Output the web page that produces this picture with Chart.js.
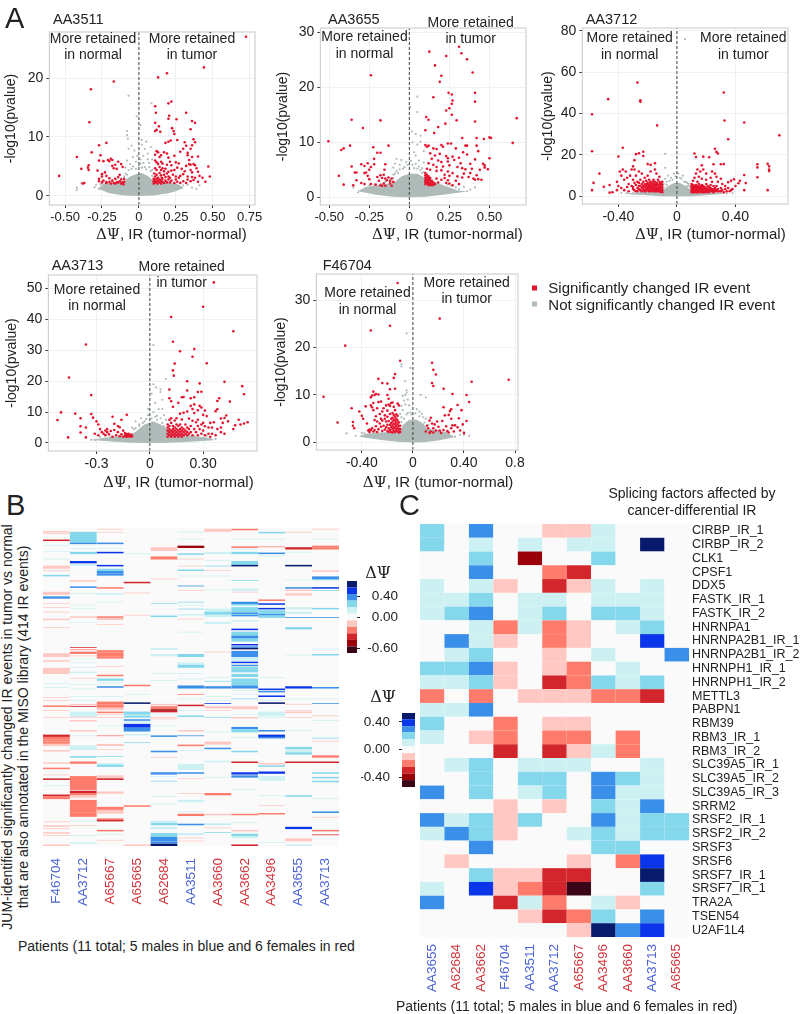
<!DOCTYPE html>
<html>
<head>
<meta charset="utf-8">
<title>IR figure</title>
<script src="https://cdn.jsdelivr.net/npm/chart.js@4/dist/chart.umd.min.js"></script>
<style>
html,body{margin:0;padding:0;background:#fff}
#page{position:relative;width:802px;height:1014px;overflow:hidden;font-family:"Liberation Sans",Arial,sans-serif;color:#222}
#page canvas{position:absolute}
.t{position:absolute;white-space:nowrap}
.psi{font-family:"DejaVu Serif","Liberation Serif",serif}
</style>
</head>
<body>
<div id="page"></div>
<script>
// -------- panel A data: [deltaPsi, -log10(p)] --------
const a3511Sig = [[.725,27],[.44,21.8],[.19,20.8],[.13,20.1],[.22,16],[.2,15.7],[.11,15.2],[.115,14.1],[.32,14.1],[.205,13.6],[.2,13.1],[.255,13],[.11,12.4],[.36,12.7],[.38,12.4],[.135,11.8],[.225,11.5],[.12,11.2],[.145,10.9],[.235,11],[.24,10.5],[.11,11],[.35,11.3],[.37,9.6],[.38,9.1],[.31,9.1],[.32,8.5],[.18,9],[.2,9.2],[.215,9.4],[.26,9.5],[.35,8],[.36,8.6],[.4,6.7],[.33,7.3],[.3,8],
[.12,7.6],[.13,7.4],[.17,7.4],[.19,7.2],[.2,6.5],[.11,7],[.14,6.6],[.15,6.9],[.24,6.8],[.28,7.5],[.33,6.9],[.34,6.1],[.36,6.6],[.11,6],[.12,5.7],[.13,5.4],[.15,5.8],[.16,5.5],[.19,5.3],[.21,5.8],[.22,5.2],[.25,5.7],[.27,5.5],[.32,5.1],[.34,5.4],[.35,5.3],[.37,5.4],[.38,5.2],[.39,4.7],[.47,5],
[.11,4.7],[.12,4.4],[.14,4.9],[.15,4.4],[.16,4.7],[.17,4.2],[.18,4.6],[.2,4.1],[.22,4.3],[.24,4.4],[.26,4.8],[.29,4.6],[.31,4.2],[.35,4.4],[.36,4],[.4,4.1],[.105,3.8],[.11,3.3],[.12,3.6],[.13,3.1],[.14,3.9],[.15,3.5],[.155,3.1],[.17,3.6],[.18,3.2],[.19,3.8],[.2,3.3],[.21,3.1],[.23,3.6],[.25,3.3],[.27,3.1],[.28,3.4],[.3,3.7],[.33,3.3],[.36,3.2],[.38,3.1],[.41,3.4],[.43,3.1],[.48,3.3],
[.1,2.9],[.1,2.5],[.1,2.1],[.11,2.7],[.11,2.3],[.12,2.9],[.12,2.4],[.125,2.1],[.13,2.6],[.14,2.3],[.14,2.8],[.15,2.1],[.15,2.6],[.16,2.4],[.16,2.9],[.17,2.2],[.18,2.6],[.19,2.3],[.2,2.8],[.21,2.3],[.22,2.6],[.24,2.2],[.25,2.8],[.26,2.4],[.28,2.2],[.3,2.5],[.32,2.2],[.33,2.8],[.35,2.5],[.37,2.7],[.4,2.4],[.45,2.4],
[-.54,3.4],[-.42,6.6],[-.38,2.1],[-.39,4.6],[-.37,2.2],[-.34,5.2],[-.345,4.8],[-.34,4.4],[-.335,12.5],[-.325,18.1],[-.32,7.4],[-.27,8.6],[-.27,6],[-.26,6.9],[-.22,9],[-.17,19.4],[-.28,4.3],[-.27,2.9],[-.27,2.5],[-.25,3.7],[-.25,3.3],[-.24,2.6],[-.24,5.9],[-.23,4],[-.22,3.4],[-.22,2.3],[-.21,6.1],[-.2,5.9],[-.2,3],[-.2,2.4],[-.19,6.3],[-.18,6.1],[-.18,5.1],[-.18,2.6],[-.17,2.2],[-.17,4.7],[-.16,5.3],[-.16,2.9],[-.15,2.3],[-.15,4.6],[-.14,5.8],[-.14,3.2],[-.13,2.5],[-.13,3.6],[-.12,2.1],[-.12,5.4],[-.12,2.8],[-.11,2.3],[-.11,4.9],[-.105,2],[-.1,2.4],[-.1,2.9],[-.14,2.3],[-.16,2.1],[-.19,2.1],[-.22,2.2],[-.25,2.3]];
const a3511Not = [[-.07,17],[.085,15.7],[-.015,13.5],[.01,12],[-.08,11],[-.08,10.3],[-.075,9.7],[.02,9.5],[.05,9.2],[.02,8.7],[-.05,8.5],[.04,8],[-.03,7.7],[-.07,8],[.08,8.3],[.06,7.2],[.03,6.8],[-.04,6.6],[.09,6.2],[-.08,6],[-.02,5.8],[.07,5.6],[-.06,5.4],[.01,5.5],[-.09,4.8],[.04,4.9],[-.42,1.4],[-.42,1],[-.39,2.2],[-.3,1.5],[-.29,1.9],[-.27,1.2],[.3,1.8],[.33,1.9],[.36,1.4],[.39,1.2],[.41,1.8],[.27,1.6],[-.09,3.8],[.09,4.4],
[-.1,3.3],[-.08,3.6],[-.07,4.4],[-.05,4.6],[-.04,5],[-.02,4.6],[0,5.2],[.02,4.8],[.03,5.6],[.05,4.5],[.06,6.2],[.08,4.2],[.09,3.4],[-.12,3],[-.15,2.8],[-.18,2.6],[-.22,2.5],[-.26,2],[.01,6.2],[-.01,6.8],[.07,4.9]];
const a3511CloudTop = [[-.27,1.4],[-.24,2.1],[-.1,2.6],[-.06,3.3],[-.02,3.7],[.02,3.9],[.06,3.4],[.1,2.6],[.25,2.2],[.3,1.5]];
const a3511CloudLow = [[-.27,1.2],[-.2,.45],[-.1,.1],[0,0],[.1,.1],[.2,.45],[.25,.8],[.3,1.3]];

const a3655Sig = [[.125,26.5],[.31,27.4],[.325,26.2],[.23,25.7],[.36,25.1],[.16,24],[.395,22.7],[.2,22.1],[.19,21],[.41,19],[.245,19],[.265,18.7],[.15,18.2],[.41,17.4],[.27,17.6],[.265,17],[.25,16.2],[.23,15.8],[.265,15],[.105,14.6],[.12,14.1],[.295,14],[.41,13.8],[.67,14.4],[.225,13.4],[.18,12.8],[.1,12.2],[.155,11.7],[.33,10.8],[.42,10.8],[.465,10.6],[.5,10.9],[.51,10.8],[.645,9.9],[.42,9.4],[.35,9.4],[.36,9.4],[.1,9.5],[.11,9.2],[.12,9.4],[.2,9.5],[.21,9.2],[.24,9.8],[.26,9.8],[.29,8.9],[.335,8.2],[.43,8.4],[.15,8.9],[.17,8.8],
[.13,8],[.16,7.6],[.19,7.9],[.23,7.5],[.24,7.1],[.27,7.4],[.31,7.2],[.36,7.8],[.41,6.9],[.5,7.1],[.14,7],[.18,6.7],[.2,6.4],[.24,6.5],[.28,6.8],[.32,6.2],[.38,6.1],[.46,6.1],[.47,5.8],[.12,6.2],[.15,5.9],[.17,5.5],[.21,5.6],[.25,5.8],[.3,5.5],[.33,5.3],[.35,5.1],[.39,5.2],[.44,5],[.49,5.1],[.47,5.4],[.11,5.2],[.13,5],[.17,4.8],[.2,4.9],[.24,4.7],[.27,4.4],[.34,4.3],[.38,4.4],[.42,4],[.22,4.1],[.25,3.9],[.3,3.8],[.37,3.7],[.4,3.4],[.41,3.2],[.43,3.3],[.45,3.2],
[.1,4.4],[.1,4],[.1,3.6],[.1,3.2],[.1,2.8],[.1,2.4],[.11,4.1],[.11,3.7],[.11,3.3],[.11,2.9],[.11,2.5],[.12,3.8],[.12,3.4],[.12,3],[.12,2.6],[.12,2.2],[.13,3.5],[.13,3.1],[.13,2.7],[.13,2.3],[.14,3],[.14,2.6],[.14,2.2],[.15,2.7],[.15,2.3],[.16,2.4],[.17,3.4],[.18,2.7],[.2,3.2],[.22,3.5],[.23,2.6],[.24,3.1],[.25,2.5],[.27,2.2],[.29,3],[.31,2.4],[.33,3.6],
[-.505,10.2],[-.41,8.9],[-.425,8.6],[-.37,9.4],[-.36,14.1],[-.29,12.6],[-.24,22.2],[-.18,14],[-.13,9.4],[-.225,9.1],[-.2,8.1],[-.18,8.1],[-.36,5.6],[-.3,6],[-.28,5.7],[-.26,6.2],[-.22,6],[-.22,7],[-.34,4.5],[-.33,4.5],[-.25,5],[-.24,5.5],[-.15,6],[-.155,5],[-.44,3.9],[-.41,2.3],[-.35,2.2],[-.33,3.1],[-.28,4.4],[-.27,4.5],[-.26,3.9],[-.3,2.6],[-.28,2.4],[-.25,3.3],[-.24,2.4],[-.21,2.3],[-.2,3.7],[-.19,3],[-.18,4],[-.18,2.2],[-.17,3.5],[-.16,4.1],[-.16,2.5],[-.15,2.1],[-.14,3.1],[-.13,3.6],[-.12,2.5],[-.12,2.9],[-.11,3.4],[-.11,2.1],[-.1,2.8],[-.17,2.1],[-.15,3.4]];
const a3655Not = [[.05,18.3],[.005,16.4],[.05,15.5],[.015,12],[.04,11.5],[.07,11.2],[.02,10],[.05,9.6],[.07,10.1],[.09,8.4],[.03,8.2],[.04,7.6],[-.08,7],[-.05,6.8],[-.02,6.4],[.06,6.7],[.09,6.3],[-.09,6.1],[-.06,5.9],[.02,5.9],[.08,5.3],[-.1,5.4],[-.04,5.2],[-.08,4.8],[.05,5.2],[-.1,4.1],[.09,4.6],[-.32,.9],[-.35,1.8],[-.26,1.5],[.31,1.5],[.34,1.9],[.38,1.4],[.41,1.8],[.29,1.8],[.36,1.1],
[-.12,3.2],[-.1,3.5],[-.09,4.3],[-.07,4.4],[-.06,5.1],[-.03,5.5],[-.01,5.9],[.01,6.6],[.03,5.3],[.04,6.1],[.06,5.6],[.07,4.9],[.08,4.4],[-.15,2.8],[-.18,2.5],[-.22,2.3],[-.25,2.2],[.24,2.3],[.26,2.1]];
const a3655CloudTop = [[-.32,1.2],[-.27,1.9],[-.1,2.6],[-.05,3.8],[0,4.3],[.05,4.3],[.1,3.5],[.22,2.1],[.3,1.3],[.35,1.1]];
const a3655CloudLow = [[-.32,1.1],[-.2,.4],[-.1,.1],[0,0],[.1,.1],[.2,.4],[.35,1]];

const a3712Sig = [[.32,50.2],[.325,36.7],[.46,35.7],[.35,27.6],[.7,29.5],[.26,23],[.27,21.5],[.28,20.7],[.12,20.7],[.13,19],[.18,19.2],[.22,18.9],[.3,15.5],[.32,15.6],[.25,15.5],[.17,15],[.55,15.5],[.55,14],[.62,15.7],[.63,14.5],[.63,13],[.63,12.2],[.55,9.2],[.46,10.3],[.47,6.4],[.62,3],[.43,7.5],[.42,6.3],[.39,8.3],[.37,7.5],[.35,6.8],[.4,5],[.38,3.5],[.46,3],[.3,8.5],[.14,13],[.16,12],[.18,13],[.2,11],[.24,12],[.26,11],[.27,9.5],[.13,11],[.15,9.5],[.12,9],[.17,8.5],[.2,8],[.23,9],[.11,7.5],[.14,7],[.28,7],[.31,6],[.24,7],[.33,5],
[.1,6],[.1,5],[.1,4],[.1,3],[.1,2],[.11,5.5],[.11,4.5],[.11,3.5],[.11,2.5],[.12,5],[.12,4],[.12,3],[.12,2],[.13,5.5],[.13,4.5],[.13,3.5],[.13,2.5],[.14,5],[.14,4],[.14,3],[.14,2],[.15,6],[.15,4.5],[.15,3.5],[.15,2.5],[.16,5],[.16,4],[.16,3],[.17,5.5],[.17,4.5],[.17,3.5],[.17,2.5],[.18,5],[.18,4],[.18,3],[.18,2],[.19,4.5],[.19,3.5],[.19,2.5],[.2,6],[.2,4],[.2,3],[.21,5],[.21,3.5],[.21,2.5],[.22,4.5],[.22,3],[.23,5.5],[.23,4],[.23,2.5],[.24,3.5],[.25,5],[.25,3],[.25,2],[.26,4],[.26,2.5],[.27,5],[.27,3],[.28,3.5],[.29,2.5],[.3,4],[.3,2.5],[.31,3],[.32,2],[.33,3.5],[.34,2.5],[.35,4],[.36,2.5],[.37,3],
[.105,4.5],[.105,3.5],[.105,2.5],[.115,5],[.115,4],[.115,3],[.115,2],[.125,4.5],[.125,3.5],[.125,2.5],[.135,4],[.135,3],[.135,2],[.145,4.5],[.145,3.5],[.145,2.5],[.155,4],[.155,3],[.155,2],[.165,3.5],[.165,2.5],[.175,4],[.175,3],[.175,2],[.185,3.5],[.185,2.5],[.195,4],[.195,3],[.195,2],[.205,3.5],[.205,2.5],[.215,3],[.215,2],[.225,3.5],[.225,2.5],[.235,3],[.245,2.5],[.255,3.5],[.265,3],[.275,2.5],
[-.58,39.7],[-.47,47],[-.27,55],[-.25,46.5],[-.25,45.7],[-.135,34.3],[-.58,21.8],[-.37,23.5],[-.4,19.3],[-.28,20.4],[-.26,20.8],[-.23,21.6],[-.23,19.5],[-.29,17.5],[-.2,15.6],[-.18,15.2],[-.3,14.5],[-.15,16],[-.53,11],[-.57,6.5],[-.58,3],[-.5,4.6],[-.46,5.5],[-.46,1.8],[-.44,2],[-.4,5],[-.41,3],[-.41,7],[-.39,12],[-.38,10],[-.37,13],[-.35,12],[-.31,13],[-.29,13],[-.36,8],[-.34,9],[-.33,6],[-.32,10],[-.3,8],[-.28,10],[-.26,12],[-.24,11],[-.22,9],[-.2,10],[-.18,12],[-.15,13],[-.14,11],[-.12,9.5],[-.38,4],[-.36,3],[-.34,4.5],[-.33,2.5],[-.31,5],[-.3,3.5],[-.29,6.5],[-.28,2.5],[-.27,7],[-.26,5],[-.25,8],
[-.3,4.5],[-.29,3],[-.28,5.5],[-.27,4],[-.27,2.5],[-.26,6.5],[-.26,3.5],[-.25,5],[-.25,3],[-.24,6],[-.24,4],[-.24,2.5],[-.23,7],[-.23,5],[-.23,3.5],[-.22,6],[-.22,4.5],[-.22,2.5],[-.21,7.5],[-.21,5.5],[-.21,3.5],[-.2,6.5],[-.2,4.5],[-.2,3],[-.19,8],[-.19,5.5],[-.19,4],[-.19,2.5],[-.18,7],[-.18,5],[-.18,3.5],[-.17,6],[-.17,4.5],[-.17,3],[-.16,8],[-.16,5.5],[-.16,3.5],[-.16,2.5],[-.15,7],[-.15,5],[-.15,3],[-.14,6],[-.14,4.5],[-.14,2.5],[-.13,8],[-.13,5.5],[-.13,3.5],[-.12,7],[-.12,5],[-.12,3],[-.115,2.2],[-.11,6],[-.11,4.5],[-.11,2.8],[-.1,7],[-.1,5.5],[-.1,4],[-.1,3],[-.1,2],
[-.235,4.5],[-.225,3],[-.215,5],[-.215,2.5],[-.205,4],[-.205,6],[-.195,3],[-.195,5],[-.185,4.5],[-.185,2.5],[-.185,6.5],[-.175,3.5],[-.175,5.5],[-.165,4.5],[-.165,2.5],[-.165,7],[-.155,3.5],[-.155,6],[-.155,4.5],[-.145,5.5],[-.145,3.5],[-.145,2.5],[-.135,4],[-.135,6.5],[-.135,3],[-.125,5.5],[-.125,4],[-.125,2.5],[-.115,3.5],[-.115,6.5],[-.115,5],[-.105,4.5],[-.105,3],[-.105,6],[-.105,2.2]];
const a3712Not = [[.055,76],[-.08,20.5],[-.08,13.8],[-.02,11],[.01,11],[.04,10],[-.06,10],[-.04,9],[-.08,8.5],[.02,9],[-.03,8],[.06,7],[-.07,7],[.08,6],[-.09,6],[.07,5],[-.34,1.8],[-.3,1.5],[-.38,1.6],[.38,1.5],[.34,1.6],[.3,1.5],
[-.09,4.5],[-.07,5.5],[-.05,7.5],[-.01,9.5],[.03,8.5],[.05,7],[.07,6.5],[.09,4.5],[.08,5],[-.12,2.5],[-.16,2.2],[-.25,2],[.14,2.2],[.28,1.8]];
const a3712CloudTop = [[-.36,1.2],[-.28,1.9],[-.1,3],[-.06,5],[-.02,6.5],[.02,6.5],[.06,5],[.1,3],[.25,2],[.33,1.4]];
const a3712CloudLow = [[-.36,1.1],[-.2,.5],[-.1,.1],[0,0],[.1,.1],[.2,.5],[.33,1.2]];

const a3713Sig = [[.36,52],[.3,44.1],[.12,40.8],[.47,36.2],[.13,32.8],[.25,30.4],[.17,29.7],[.24,27.9],[.32,25.8],[.14,25.7],[.13,23.5],[.135,21.8],[.21,20],[.42,19.8],[.28,19.3],[.52,18.4],[.11,17.3],[.21,17],[.27,16.5],[.29,16.6],[.53,15.8],[.11,14.5],[.18,14.8],[.19,14.9],[.23,14.5],[.25,14.8],[.39,14.5],[.38,13.6],[.12,13.5],[.16,13],[.23,12],[.25,12.5],[.45,13.4],[.13,11.7],[.28,12],[.29,11.5],[.24,11],[.27,10.6],[.31,10.5],[.37,10.3],[.38,10.9],[.21,10.2],[.17,9.5],[.19,9.8],[.25,9.7],[.3,9.1],[.32,8.7],[.43,8.9],[.42,8.1],[.4,7.9],[.44,7],[.5,7.5],[.53,6.3],[.55,6.7],[.51,6],[.36,6.7],[.34,6.5],[.3,6.5],[.15,8],[.12,8],[.11,7.5],[.14,7.3],[.18,7.6],[.22,7.9],[.24,7.2],[.27,7.5],[.48,5.7],[.47,4.5],[.4,5],[.41,6.5],[.38,4.5],[.35,5],[.33,5],[.31,5.4],[.29,6],[.27,5.5],[.26,6.7],
[.1,6],[.1,5],[.1,4],[.1,3],[.1,2],[.11,5.5],[.11,4.5],[.11,3.5],[.11,2.5],[.12,6.5],[.12,4],[.12,3],[.12,2],[.13,5.5],[.13,4.5],[.13,3.5],[.13,2.5],[.14,5],[.14,4],[.14,3],[.14,2],[.15,6],[.15,4.5],[.15,3.5],[.15,2.5],[.16,5.5],[.16,4],[.16,3],[.16,2],[.17,6],[.17,4.5],[.17,3.5],[.17,2.5],[.18,5],[.18,4],[.18,3],[.18,2],[.19,4.5],[.19,3.5],[.19,2.5],[.2,6],[.2,4],[.2,3],[.21,5],[.21,3.5],[.21,2.5],[.22,4.5],[.22,3],[.23,5.5],[.23,3.5],[.24,2.5],[.25,4.5],[.26,3.5],[.27,2.5],[.28,4.5],[.29,3],[.3,4],[.31,2.5],[.33,3],[.35,3],[.37,2.5],[.4,3.5],[.42,3],[.34,2],
[-.36,31.9],[-.455,21.2],[-.33,15.5],[-.5,9.9],[-.52,7.4],[-.42,9.5],[-.39,8],[-.39,5.4],[-.39,3.4],[-.46,1.8],[-.36,5],[-.36,1.8],[-.33,9.4],[-.32,8.2],[-.3,7],[-.29,6],[-.28,4.5],[-.21,8.5],[-.2,6.2],[-.16,7.5],[-.13,9.1],[-.25,4],[-.24,4.5],[-.27,3.5],[-.26,3],[-.25,2.5],[-.24,3.5],[-.23,2.8],[-.22,3.9],[-.21,2],[-.2,4.2],[-.19,2.5],[-.18,5.5],[-.18,3.5],[-.17,2.2],[-.16,2.8],[-.15,4],[-.15,2],[-.14,2.5],[-.14,3.2],[-.13,2],[-.13,2.8],[-.12,2.2],[-.12,3],[-.11,2],[-.11,2.6],[-.1,2.2],[-.125,2.4],[-.135,2.1],[-.105,2.7],[-.31,3],[-.29,2.5],[-.17,5.1]];
const a3713Not = [[.02,31.7],[.005,23.7],[.02,19],[.035,18],[.06,17.4],[.01,16],[.06,16.5],[.07,14],[.09,20.7],[.03,13],[-.01,11],[.05,11],[.07,11],[.08,9],[.02,10],[-.01,9],[.03,8.5],[.06,8],[-.05,8],[-.08,7],[-.03,7],[.09,7.5],[-.06,6],[.04,7.5],[-.09,4.5],[-.1,5],[-.31,1],[-.33,1],[-.28,2],[.3,1.5],[.34,1.3],[.37,1.3],[.32,2.4],
[-.08,4.8],[-.06,5.5],[-.04,6.5],[-.02,7.8],[.01,8],[.04,8.8],[.07,6.5],[.08,5.5],[.09,4.5],[-.13,3],[-.17,2.4],[-.22,2.1],[.22,2.5],[.25,2.2]];
const a3713CloudTop = [[-.33,1],[-.25,1.8],[-.12,2.5],[-.08,3.6],[-.03,6],[.02,7],[.06,6],[.1,4.5],[.2,2.5],[.32,1.8],[.36,1.1]];
const a3713CloudLow = [[-.33,1],[-.2,.4],[-.1,.1],[0,0],[.1,.1],[.2,.3],[.36,.9]];

const f46704Sig = [[-.12,33.6],[.21,26.1],[-.18,24.6],[-.33,23.6],[-.53,20.4],[-.1,17.2],[.15,16.8],[.16,15.3],[.18,14.3],[-.14,14.4],[-.15,13.6],[-.27,13.4],[-.24,12.5],[-.2,12.4],[-.18,11.2],[-.14,11.3],[.15,12.5],[.16,11.9],[.24,11.3],[.46,12.8],[.75,13.2],[.31,10.2],[.42,10],[.44,8.5],[-.7,9.6],[-.31,10.7],[-.3,10],[-.29,10.2],[-.27,10.1],[-.33,9.5],[-.32,9.9],[-.2,10],[-.19,9.2],[.24,7.4],[.35,7.9],[.29,6.6],[.3,7],[.38,6.8],[.28,5.8],[.36,5.1],[.42,4.5],[.3,5],[.25,5.7],[.23,4.5],[.14,5.2],[.13,4.6],[.15,4],[.17,3.8],[.19,4.4],[.16,3],[.18,2.5],[.12,3],[.11,3.5],[.14,2.3],[.2,3.3],[.21,2.5],[.22,2],[.24,2.6],[.26,3.4],[.27,2.4],[.3,3],[.32,2.3],[.33,3.6],[.35,3.2],[.37,2.5],[.39,3.8],[.28,2.1],[.31,3.6],[.4,2],[.1,2.3],[.13,2],[.16,2.1],
[-.59,4.2],[-.48,7.2],[-.47,4.3],[-.47,3.5],[-.46,3],[-.42,6.5],[-.4,5.6],[-.39,5],[-.37,7.6],[-.36,4],[-.35,2.5],[-.34,2.7],[-.33,7.8],[-.32,7.4],[-.31,6.8],[-.31,8.3],[-.3,4.7],[-.29,5.5],[-.28,7.2],[-.27,8.5],[-.26,6],[-.25,8.6],[-.24,6.5],[-.23,7.2],[-.22,5],[-.21,7.8],[-.2,6.7],[-.19,8],[-.18,7.7],[-.17,8.3],[-.16,8.4],[-.15,7.5],[-.14,6.8],[-.12,8.2],[-.11,7.8],[-.34,2.2],[-.33,2.6],[-.32,3],[-.31,2.3],[-.3,2.6],[-.29,3.4],[-.28,2.2],[-.28,4.4],[-.27,2.8],[-.26,4],[-.25,5],[-.25,3.3],[-.24,2.4],[-.24,4.6],[-.23,3.5],[-.22,2.7],[-.22,5.7],[-.21,4.4],[-.21,3.2],[-.2,5.4],[-.2,2.4],[-.2,3.7],[-.19,4.5],[-.19,3],[-.19,2.2],[-.18,6],[-.18,3.7],[-.18,2.6],[-.17,5],[-.17,4.1],[-.17,3.2],[-.17,2.2],[-.16,6.2],[-.16,5.2],[-.16,4.4],[-.16,3.6],[-.16,2.8],[-.16,2.1],[-.15,5.8],[-.15,4.8],[-.15,4],[-.15,3.2],[-.15,2.4],[-.14,5.4],[-.14,4.6],[-.14,3.8],[-.14,3],[-.14,2.2],[-.13,5.9],[-.13,5],[-.13,4.2],[-.13,3.4],[-.13,2.6],[-.12,5.6],[-.12,4.6],[-.12,3.8],[-.12,3],[-.12,2.3],[-.11,4.2],[-.11,3.4],[-.11,2.7],[-.11,2.1],[-.1,3.5],[-.1,2.8],[-.1,2.2]];
const f46704Not = [[-.05,23],[-.09,16.5],[-.09,16],[-.02,15.7],[-.06,12.9],[-.05,11],[-.05,10.5],[-.06,10],[.06,10],[-.08,9.8],[-.04,9],[-.07,8.8],[.1,9.5],[-.09,7.7],[-.03,7.8],[-.06,8],[.03,7],[.05,6.5],[-.08,6.8],[-.1,6],[-.02,6.3],[.07,6],[-.05,5.9],[.1,5],[-.09,5.3],[-.52,1.9],[-.45,1.4],[.4,1.6],[.44,1.4],[.33,1.2],[.28,1.1],[-.4,2],[.37,1.6],
[-.09,4.3],[-.07,5],[-.04,6.2],[-.01,5.9],[.02,6.1],[.05,5.5],[.08,5.3],[.09,4.2],[.12,3.7],[-.3,2.2],[-.38,1.9],[.2,2.4],[.26,2.1]];
const f46704CloudTop = [[-.42,1.3],[-.36,1.9],[-.1,2.4],[-.08,3.6],[-.03,4.8],[.03,4.8],[.08,4],[.11,3],[.25,2.2],[.32,1.3]];
const f46704CloudLow = [[-.42,1.2],[-.25,.5],[-.1,.1],[0,0],[.1,.1],[.2,.4],[.32,1.1]];

// -------- panel B: 414 events, stripes per patient as [first row, rows, delta psi] --------
const bPatients = ['F46704','AA3712','A65667','A65665','A62684','AA3511','AA3660','AA3662','AA3496','AA3655','AA3713'];
const bMales = ['F46704','AA3712','AA3511','AA3655','AA3713'];
const bF46704 = [[4,2,-.08],[7,1,-.08],[15,2,-.4],[22,1,.08],[30,1,.08],[40,1,.08],[49,4,-.1],[55,1,-.08],[61,2,.15],[83,4,-.08],[89,3,.28],[98,1,-.08],[103,1,-.08],[109,1,-.08],[118,2,-.08],[129,1,-.08],[163,5,-.1],[172,2,-.08],[182,8,-.08],[202,1,.08],[207,1,.08],[220,1,-.08],[224,1,-.08],[231,2,-.25],[237,1,-.08],[246,1,-.08],[269,3,-.3],[272,3,-.2],[275,3,-.25],[278,3,-.2],[281,3,-.12],[289,2,-.08],[305,2,-.08],[312,2,-.2],[321,1,-.08],[326,2,-.42],[335,1,.08],[347,2,-.35],[349,4,-.22],[382,1,-.08],[387,2,-.08],[391,1,-.08],[396,2,-.08],[400,1,-.08],[412,2,-.08]];
const bAA3712 = [[5,14,.2],[19,2,.3],[26,1,.08],[31,3,.2],[43,3,.45],[47,2,.08],[68,2,-.1],[76,2,.3],[85,1,.08],[100,1,.08],[104,1,.08],[115,2,-.12],[122,1,.08],[155,1,-.3],[158,1,-.2],[161,3,-.2],[166,1,-.08],[170,1,.08],[175,1,.08],[181,1,.08],[187,2,.08],[195,1,-.08],[203,1,.08],[209,1,.08],[219,1,.08],[224,1,.08],[229,2,-.12],[232,1,-.35],[242,4,.08],[246,1,-.08],[239,5,.08],[250,2,-.08],[263,2,-.08],[270,1,.08],[283,6,.1],[297,2,.2],[304,3,-.2],[323,9,-.2],[332,9,-.14],[342,3,-.42],[345,3,-.2],[348,3,-.12],[354,8,-.2],[362,8,-.18],[370,6,-.14],[381,1,.08],[387,1,-.08],[400,1,.08],[409,2,.08]];
const bA65667 = [[1,1,-.08],[5,1,-.08],[19,2,.3],[26,1,.08],[31,2,.45],[48,2,.45],[53,3,.2],[56,3,.3],[59,3,.25],[77,2,-.22],[85,2,.08],[96,1,.08],[115,2,-.2],[118,1,-.2],[125,1,-.08],[159,3,-.14],[162,5,-.2],[167,3,-.24],[180,1,-.08],[191,2,-.2],[196,3,.15],[201,1,.08],[206,2,.3],[219,1,.08],[226,4,-.14],[230,4,-.2],[234,3,-.12],[242,1,-.08],[246,1,-.08],[239,2,-.2],[257,1,.08],[270,1,-.2],[282,1,-.2],[288,1,-.08],[297,1,.2],[306,2,.08],[308,3,.18],[322,5,-.08],[326,2,-.42],[343,3,-.08],[363,4,-.14],[367,5,-.08],[378,2,-.2],[380,2,-.4],[393,2,-.2],[398,1,.08],[406,1,-.08]];
const bA65665 = [[33,1,.08],[70,2,-.42],[84,1,-.08],[113,1,-.08],[204,2,-.2],[216,1,.08],[227,2,.6],[239,4,.2],[244,3,.2],[249,2,.3],[252,2,.08],[255,5,.45],[260,3,.3],[263,2,.3],[268,2,.08],[279,1,.2],[361,2,-.2],[412,2,-.08]];
const bA62684 = [[25,5,-.1],[37,4,-.2],[66,1,-.08],[98,1,.2],[114,2,.2],[157,1,.2],[164,3,.08],[189,1,.08],[198,1,.08],[229,2,-.12],[232,4,-.2],[236,2,-.48],[242,1,.08],[246,1,-.08],[238,2,-.42],[248,1,-.08],[257,1,.08],[270,2,.3],[290,2,.3],[298,1,-.08],[318,3,.3],[323,1,.08],[329,1,.2],[349,1,.08],[359,1,.08],[381,3,.08],[384,3,.15],[390,1,.2],[397,5,.2],[402,6,.28],[408,3,.35],[411,3,.55]];
const bAA3511 = [[5,1,.08],[14,1,.08],[23,3,-.45],[33,2,.2],[40,1,-.08],[49,1,-.08],[54,2,.2],[62,1,.08],[75,1,.3],[81,1,-.08],[96,1,.2],[100,1,.08],[105,1,.2],[112,2,.08],[118,1,-.08],[135,1,.08],[164,4,.2],[175,3,.08],[178,4,.15],[189,1,.08],[196,1,.08],[205,4,.3],[216,1,-.2],[222,1,.08],[230,2,-.42],[237,1,.08],[244,2,.2],[263,2,-.1],[270,1,.3],[282,2,-.25],[289,1,.08],[307,8,.08],[318,2,.3],[326,1,-.08],[345,1,-.08],[354,3,.08],[369,1,.08],[372,3,-.2],[385,2,.3],[398,1,.2],[403,1,-.08],[407,1,-.08]];
const bAA3660 = [[1,4,-.1],[31,3,.08],[42,1,.08],[49,1,.2],[55,1,-.08],[62,1,.08],[80,1,.08],[105,4,.12],[109,4,.2],[113,3,.1],[122,3,.08],[161,1,-.08],[194,1,.08],[199,1,.2],[206,3,.3],[219,1,.08],[224,1,.08],[228,1,.4],[232,3,-.08],[237,1,-.08],[246,1,.2],[265,1,.08],[278,4,-.12],[286,2,.3],[303,2,.1],[324,1,.08],[345,3,-.2],[372,2,-.08],[385,1,.2],[390,1,-.08],[396,1,.2]];
const bAA3662 = [[1,2,-.2],[14,1,.08],[24,2,-.2],[27,1,.08],[31,3,.15],[43,5,.2],[48,2,.6],[68,1,.2],[79,3,.08],[83,1,-.08],[96,3,.3],[99,2,.2],[103,7,.18],[110,2,.35],[112,1,.2],[113,2,.35],[120,2,.08],[131,2,.45],[135,5,.2],[140,4,.25],[144,4,.18],[151,2,.45],[154,2,.25],[156,2,.55],[160,8,.3],[168,5,.12],[174,2,.42],[178,2,.3],[181,7,.22],[190,4,.18],[196,9,.16],[205,4,.3],[211,1,.08],[216,1,.08],[222,1,.2],[232,4,-.08],[242,1,.08],[246,2,-.08],[259,3,.3],[262,4,.2],[272,1,.08],[290,2,.2],[304,2,-.38],[318,3,.42],[322,3,.3],[340,1,.08],[372,2,-.2],[383,1,.08],[393,2,-.12],[398,3,.2],[401,3,.12],[412,2,-.38]];
const bAA3496 = [[5,2,.2],[14,1,.08],[24,1,-.2],[32,2,.3],[36,1,.08],[93,2,-.22],[98,2,.45],[104,2,.5],[107,5,.2],[112,2,.3],[114,3,.22],[194,1,.08],[209,2,.42],[212,2,.3],[218,2,.45],[224,1,.08],[227,2,.6],[239,4,.08],[246,1,.08],[240,5,.08],[263,2,.28],[269,3,.5],[272,2,.3],[306,2,-.1],[309,2,.2],[317,3,.42],[323,3,.12],[326,3,.08],[348,1,.08],[361,1,-.08],[371,2,-.2],[409,1,.08]];
const bAA3655 = [[5,1,-.08],[25,3,-.42],[31,1,.08],[48,2,.6],[67,1,.08],[77,2,.3],[80,2,-.1],[85,3,-.1],[103,3,.08],[109,3,.08],[116,1,.3],[129,3,.15],[165,1,.08],[206,3,.42],[222,1,.08],[229,1,-.08],[237,1,-.08],[246,1,-.08],[239,2,-.08],[263,1,.08],[285,3,.2],[288,4,.12],[292,3,.2],[304,2,-.3],[348,2,.2],[389,3,.42],[404,4,-.1],[412,2,.08]];
const bAA3713 = [[1,1,-.08],[14,1,.08],[23,2,-.25],[25,3,-.14],[55,2,-.1],[63,4,.28],[67,1,.15],[77,2,.4],[81,1,.2],[104,2,.2],[116,1,.3],[157,1,.08],[164,2,.2],[207,2,.28],[222,1,.08],[228,1,.35],[244,1,-.08],[250,1,.08],[273,1,.2],[277,1,-.08],[296,3,-.25],[304,2,-.3],[318,2,.2],[324,2,.2],[329,2,.2],[352,1,.08],[369,2,.3],[376,1,-.08],[393,2,-.2],[399,1,-.3]];

// -------- panel C: delta psi per splicing factor, same order as cPatients --------
const cPatients = ['AA3655','A62684','AA3662','F46704','AA3511','AA3712','A65667','AA3496','AA3660','AA3713','A65665'];
const cMales = ['AA3655','F46704','AA3511','AA3712','AA3713'];
const cFactors = ['CIRBP_IR_1','CIRBP_IR_2','CLK1','CPSF1','DDX5','FASTK_IR_1','FASTK_IR_2','HNRNPA1','HNRNPA2B1_IR_1','HNRNPA2B1_IR_2','HNRNPH1_IR_1','HNRNPH1_IR_2','METTL3','PABPN1','RBM39','RBM3_IR_1','RBM3_IR_2','SLC39A5_IR_1','SLC39A5_IR_2','SLC39A5_IR_3','SRRM2','SRSF2_IR_1','SRSF2_IR_2','SRSF3','SRSF6','SRSF7_IR_1','SRSF7_IR_1','TRA2A','TSEN54','U2AF1L4'];
const cValues = [
[.2,0,.3,0,0,-.08,-.08,.08,0,0,0],
[.2,0,.08,0,.08,0,.08,.08,0,.6,0],
[0,0,.2,0,-.5,0,0,.2,0,0,0],
[0,0,.3,0,0,-.2,-.35,0,0,0,0],
[.08,0,.08,-.08,0,-.35,-.08,.08,0,.08,0],
[.08,.08,.2,0,.08,.08,0,.08,.08,.08,0],
[.08,.2,.3,0,.08,.2,0,.2,.2,.08,0],
[0,0,.08,-.2,.08,-.2,-.08,0,.08,.2,0],
[0,.3,.08,-.08,0,-.2,-.08,0,0,.45,0],
[0,.08,.2,0,0,-.08,0,.08,0,0,.3],
[.2,.2,.3,-.08,0,-.08,-.2,0,.08,0,0],
[.08,.08,.2,-.08,0,-.35,-.2,.2,.08,.2,0],
[-.2,0,-.2,0,-.08,-.08,-.08,-.2,-.2,-.35,0],
[.08,.08,.3,0,0,0,0,0,0,0,0],
[.2,0,0,-.2,0,-.08,-.08,0,0,0,0],
[.08,0,-.08,-.2,0,-.2,-.2,0,-.2,0,0],
[0,0,0,-.35,0,-.35,-.08,.08,-.2,0,0],
[0,.08,.2,0,.08,.08,.08,0,0,.08,0],
[0,0,.2,0,.2,.2,0,.3,.2,.08,0],
[.3,0,.2,0,.08,.2,0,.3,.08,.08,0],
[0,0,0,-.08,0,-.08,0,.2,.08,.3,0],
[.3,.08,.2,-.08,.2,0,0,.3,.08,.2,.2],
[.08,.3,.2,-.08,0,0,.08,.2,.08,.2,.2],
[0,0,.3,0,0,0,0,.2,.2,0,0],
[0,-.08,0,0,0,0,-.08,0,-.2,.45,0],
[0,0,.2,-.08,-.08,-.35,-.35,0,0,.6,0],
[.08,0,.45,-.08,-.2,-.35,-.65,0,0,.2,0],
[.3,0,0,-.35,.08,-.2,0,.08,-.08,0,0],
[0,0,0,0,-.08,-.35,-.2,.2,0,.3,0],
[0,0,0,0,0,0,-.08,.6,.3,.45,0]];

// colour steps shared by both heatmaps, top of the colour bar first
const stepValues = [.6,.45,.3,.2,.08,0,-.08,-.2,-.35,-.5,-.65];
const stepColors = ['#071a6b','#0a35e8','#3a8fe8','#85d8ec','#cdf1f3','#fafafa','#ffc8c2','#ff7b6c','#d2262c','#980208','#3a0519'];
const barBEdges = [.69,.565,.44,.315,.19,.065,-.065,-.19,-.315,-.44,-.565,-.69];
const barCEdges = [.53,.44,.34,.25,.15,.05,-.05,-.15,-.25,-.345,-.44,-.54];

const SANS = '"Liberation Sans", Arial, sans-serif';
const INK = '#222';
const BLUE = '#4a62d6', RED = '#d1343a';
const page = document.getElementById('page');

function put(html, x, y, size, opt){
	opt = opt || {};
	let d = document.createElement('div');
	d.className = 't';
	d.innerHTML = html;
	d.style.left = x + 'px';
	d.style.top = y + 'px';
	d.style.fontSize = size + 'px';
	if(opt.color) d.style.color = opt.color;
	let tf = opt.center ? 'translate(-50%,-50%)' : 'translateY(-50%)';
	if(opt.rotate) tf += ' rotate(-90deg)';
	d.style.transform = tf;
	page.appendChild(d);
}

// canvas sized so that the plot area lands on box, whatever the margins are
function newCanvas(box, m){
	let c = document.createElement('canvas');
	c.width = Math.round(m.l + box.w + m.r);
	c.height = Math.round(m.t + box.h + m.b);
	c.style.left = (box.x - m.l) + 'px';
	c.style.top = (box.y - m.t) + 'px';
	page.appendChild(c);
	return c;
}

function fixedTicks(values){
	return s => { s.ticks = values.map(v => ({value: v})); };
}

// the scale would otherwise shrink the plot area to fit half a tick label
function noPadY(s, width){ s.width = width; s.paddingTop = 0; s.paddingBottom = 0; }
function noPadX(s, height){ s.height = height; s.paddingLeft = 0; s.paddingRight = 0; }

const frame = {
	id: 'frame',
	afterDraw(chart, args, o){
		let a = chart.chartArea, g = chart.ctx;
		g.save();
		g.strokeStyle = '#cdd3d3';
		g.lineWidth = 1.2;
		g.strokeRect(a.left, a.top, a.right - a.left, a.bottom - a.top);
		g.restore();
	}
};

function pts(arr){ return arr.map(p => ({x: p[0], y: p[1]})); }

function volcano(p){
	let m = {l: p.box.x - p.titleX + 8.4, r: 14, t: 10, b: 34};
	new Chart(newCanvas(p.box, m), {
		type: 'scatter',
		data: {datasets: [
			{data: [{x: 0, y: p.y[0]}, {x: 0, y: p.y[1]}], showLine: true, pointRadius: 0, borderColor: '#444', borderWidth: 1, borderDash: [3, 2]},
			{data: pts(p.sig), pointRadius: 1.3, pointBorderWidth: 0, backgroundColor: '#e5142e'},
			{data: pts(p.not), pointRadius: 1.1, pointBorderWidth: 0, backgroundColor: '#aebbb8'},
			{data: pts(p.top), showLine: true, pointRadius: 0, borderWidth: 0, backgroundColor: '#aebbb8', fill: '+1'},
			{data: pts(p.low), showLine: true, pointRadius: 0, borderWidth: 0}
		]},
		options: {
			responsive: false, animation: false, events: [],
			layout: {autoPadding: false, padding: {top: m.t, right: m.r}},
			plugins: {legend: {display: false}, tooltip: {enabled: false}},
			scales: {
				x: {
					type: 'linear', min: p.x[0], max: p.x[1],
					afterBuildTicks: fixedTicks(p.xTicks),
					afterFit: s => noPadX(s, m.b),
					border: {display: false},
					grid: {color: '#eff2f2', tickColor: '#333', tickLength: 3},
					ticks: {autoSkip: false, maxRotation: 0, padding: 2, color: INK, font: {family: SANS, size: p.xSize || 13},
						callback: v => p.xLabels[p.xTicks.indexOf(v)]}
				},
				y: {
					min: p.y[0], max: p.y[1],
					afterBuildTicks: fixedTicks(p.yTicks),
					afterFit: s => noPadY(s, m.l),
					border: {display: false},
					grid: {color: '#eff2f2', tickColor: '#333', tickLength: 3},
					ticks: {autoSkip: false, padding: 3, color: INK, font: {family: SANS, size: 14}, callback: v => String(v)},
					title: {display: true, text: '-log10(pvalue)', color: INK, padding: 0, font: {family: SANS, size: 14}}
				}
			}
		},
		plugins: [frame]
	});
}

function floatingBars(canvas, labels, bars, x, y){
	return new Chart(canvas, {
		type: 'bar',
		data: {labels: labels, datasets: [{
			data: bars,
			backgroundColor: c => c.raw.c,
			barPercentage: 1, categoryPercentage: 1, grouped: false, borderWidth: 0, inflateAmount: 0
		}]},
		options: {
			responsive: false, animation: false, events: [],
			layout: {autoPadding: false, padding: 0},
			plugins: {legend: {display: false}, tooltip: {enabled: false}},
			scales: {x: x, y: y}
		}
	});
}

function colorOf(v){
	let best = 0;
	stepValues.forEach((s, i) => { if(Math.abs(s - v) < Math.abs(stepValues[best] - v)) best = i; });
	return stepColors[best];
}

function patientAxis(names, males, height, pad){
	return {
		afterFit: s => noPadX(s, height),
		border: {display: false},
		grid: {display: false, drawTicks: false},
		ticks: {autoSkip: false, minRotation: 90, maxRotation: 90, padding: pad, font: {family: SANS, size: 13.5},
			color: c => males.includes(names[c.index]) ? BLUE : RED}
	};
}

function colorBar(box, edges, ticks, labels, side){
	let m = side === 'right' ? {l: 0, r: 41, t: 0, b: 0} : {l: 41, r: 0, t: 0, b: 0};
	let bars = stepColors.map((col, i) => ({x: 'bar', y: [edges[i + 1], edges[i]], c: col}));
	floatingBars(newCanvas(box, m), ['bar'], bars,
		{display: false},
		{
			position: side, min: edges[edges.length - 1], max: edges[0],
			afterBuildTicks: fixedTicks(ticks),
			afterFit: s => noPadY(s, side === 'right' ? m.r : m.l),
			border: {display: false},
			grid: {drawOnChartArea: false, tickColor: '#222', tickLength: 3},
			ticks: {autoSkip: false, padding: side === 'right' ? 8 : 9, color: INK, crossAlign: side === 'right' ? 'far' : 'near', font: {family: SANS, size: 13.5},
				callback: v => labels[ticks.indexOf(v)]}
		});
}

// -------- panel A --------
volcano({box: {x: 49, y: 32, w: 206, h: 173}, titleX: 11, x: [-.606, .786], y: [-1.53, 27.8],
	xTicks: [-.5, -.25, 0, .25, .5, .75], xLabels: ['-0.50', '-0.25', '0', '0.25', '0.50', '0.75'], yTicks: [0, 10, 20],
	sig: a3511Sig, not: a3511Not, top: a3511CloudTop, low: a3511CloudLow});
volcano({box: {x: 320, y: 28, w: 206, h: 177}, titleX: 283, x: [-.555, .728], y: [-1.4, 30.8],
	xTicks: [-.5, -.25, 0, .25, .5], xLabels: ['-0.50', '-0.25', '0', '0.25', '0.50'], yTicks: [0, 10, 20, 30],
	sig: a3655Sig, not: a3655Not, top: a3655CloudTop, low: a3655CloudLow});
volcano({box: {x: 582, y: 28, w: 206, h: 176}, titleX: 548, x: [-.646, .759], y: [-3.7, 81.4], xSize: 14,
	xTicks: [-.4, 0, .4], xLabels: ['-0.40', '0', '0.40'], yTicks: [0, 20, 40, 60, 80],
	sig: a3712Sig, not: a3712Not, top: a3712CloudTop, low: a3712CloudLow});
volcano({box: {x: 48, y: 275, w: 209, h: 176}, titleX: 12, x: [-.571, .603], y: [-2.6, 54.4], xSize: 14,
	xTicks: [-.3, 0, .3], xLabels: ['-0.3', '0', '0.30'], yTicks: [0, 10, 20, 30, 40, 50],
	sig: a3713Sig, not: a3713Not, top: a3713CloudTop, low: a3713CloudLow});
volcano({box: {x: 316, y: 274, w: 202, h: 176}, titleX: 281, x: [-.756, .823], y: [-1.6, 35.5], xSize: 14,
	xTicks: [-.4, 0, .4, .8], xLabels: ['-0.40', '0', '0.40', '0.8'], yTicks: [0, 10, 20, 30],
	sig: f46704Sig, not: f46704Not, top: f46704CloudTop, low: f46704CloudLow});

const axisName = '<span class="psi">ΔΨ</span>, IR (tumor-normal)';
const TXT = 14, AX = 15, NAME = 14.5;
put('AA3511', 53, 19, NAME);
put('More retained', 93, 38, TXT, {center: 1});
put('in normal', 93, 54, TXT, {center: 1});
put('More retained', 192, 38, TXT, {center: 1});
put('in tumor', 192, 54, TXT, {center: 1});
put(axisName, 96, 234, AX);

put('AA3655', 328, 19, NAME);
put('More retained', 364.5, 36, TXT, {center: 1});
put('in normal', 364.5, 53, TXT, {center: 1});
put('More retained', 470.7, 22, TXT, {center: 1});
put('in tumor', 470.7, 38, TXT, {center: 1});
put(axisName, 372, 234, AX);

put('AA3712', 585.7, 19, NAME);
put('More retained', 629.7, 37, TXT, {center: 1});
put('in normal', 629.7, 54, TXT, {center: 1});
put('More retained', 743.3, 37, TXT, {center: 1});
put('in tumor', 743.3, 54, TXT, {center: 1});
put(axisName, 635, 234, AX);

put('AA3713', 51.7, 265, NAME);
put('More retained', 97, 289, TXT, {center: 1});
put('in normal', 97, 305, TXT, {center: 1});
put('More retained', 181.7, 265.7, TXT, {center: 1});
put('in tumor', 181.7, 282, TXT, {center: 1});
put(axisName, 103, 482, AX);

put('F46704', 322.7, 265, NAME);
put('More retained', 367.5, 292.3, TXT, {center: 1});
put('in normal', 367.5, 309, TXT, {center: 1});
put('More retained', 466.7, 281.7, TXT, {center: 1});
put('in tumor', 466.7, 298, TXT, {center: 1});
put(axisName, 362.7, 482, AX);

put('<span style="display:inline-block;width:5px;height:5px;background:#e5142e"></span>', 531.5, 287, 10);
put('<span style="display:inline-block;width:5px;height:5px;background:#aebbb8"></span>', 531.5, 303, 10);
put('Significantly changed IR event', 548.3, 287, 15);
put('Not significantly changed IR event', 548.3, 304, 15);

put('A', 5, 18, 29);
put('B', 6, 505, 29);
put('C', 399, 505, 29);

// -------- panel B --------
const bColumns = [bF46704, bAA3712, bA65667, bA65665, bA62684, bAA3511, bAA3660, bAA3662, bAA3496, bAA3655, bAA3713];
let bBars = [];
bColumns.forEach((col, i) => {
	bBars.push({x: bPatients[i], y: [0, 414], c: '#fafafa'});
	col.forEach(s => bBars.push({x: bPatients[i], y: [s[0], s[0] + s[1]], c: colorOf(s[2])}));
});
floatingBars(newCanvas({x: 43, y: 528, w: 296, h: 318}, {l: 0, r: 0, t: 0, b: 66}), bPatients, bBars,
	patientAxis(bPatients, bMales, 66, 12),
	{display: false, reverse: true, min: 0, max: 414});

put('JUM-identified significantly changed IR events in tumor vs normal', 7, 727, 14, {center: 1, rotate: 1});
put('that are also annotated in the MISO library (414 IR events)', 22.7, 727, 14, {center: 1, rotate: 1});
put('Patients (11 total; 5 males in blue and 6 females in red', 18, 945.7, 14);

colorBar({x: 347, y: 581, w: 10, h: 72}, barBEdges, [.4, 0, -.6], ['0.40', '0.00', '-0.60'], 'right');
put('<span class="psi">ΔΨ</span>', 378, 571.5, 16, {center: 1});

// -------- panel C --------
let cBars = [];
cValues.forEach((row, r) => {
	row.forEach((v, i) => cBars.push({x: cPatients[i], y: [r, r + 1], c: colorOf(v)}));
});
floatingBars(newCanvas({x: 420, y: 524, w: 269, h: 413}, {l: 0, r: 113, t: 0, b: 62}), cPatients, cBars,
	patientAxis(cPatients, cMales, 62, 7),
	{
		position: 'right', reverse: true, min: 0, max: cFactors.length,
		afterBuildTicks: fixedTicks(cFactors.map((f, r) => r + .5)),
		afterFit: s => noPadY(s, 113),
		border: {display: false},
		grid: {display: false, drawTicks: false},
		ticks: {autoSkip: false, padding: 3, color: INK, font: {family: SANS, size: 12.5},
			callback: v => cFactors[v - .5]}
	});

put('Splicing factors affected by', 692, 493, 14, {center: 1});
put('cancer-differential IR', 692, 510, 14, {center: 1});
put('Patients (11 total; 5 males in blue and 6 females in red)', 396, 1006, 14);

colorBar({x: 402, y: 713, w: 13, h: 74}, barCEdges, [.4, 0, -.4], ['0.40', '0.00', '-0.40'], 'left');
put('<span class="psi">ΔΨ</span>', 383, 696, 16, {center: 1});
</script>
</body>
</html>
